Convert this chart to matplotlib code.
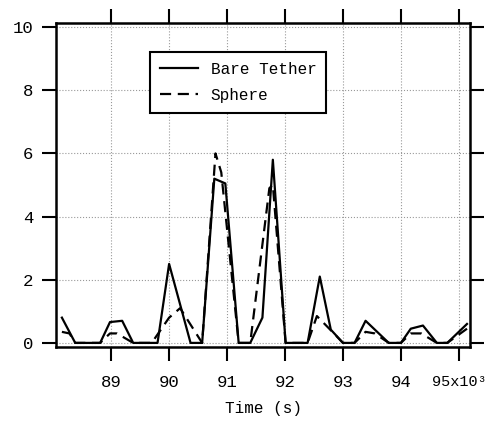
import matplotlib
matplotlib.use('Agg')
import matplotlib.pyplot as plt

# time (x10^3 s) and values
t_tether = [88.15, 88.38, 88.81, 88.98, 89.19, 89.38, 89.80, 90.00, 90.37, 90.57,
            90.78, 90.97, 91.20, 91.40, 91.61, 91.79, 92.01, 92.39, 92.60, 92.79,
            93.00, 93.20, 93.39, 93.79, 94.00, 94.17, 94.38, 94.62, 94.80, 95.14]
v_tether = [0.8, 0.0, 0.0, 0.66, 0.7, 0.0, 0.0, 2.5, 0.0, 0.0,
            5.2, 5.05, 0.0, 0.0, 0.8, 5.8, 0.0, 0.0, 2.1, 0.42,
            0.0, 0.0, 0.7, 0.0, 0.0, 0.45, 0.55, 0.0, 0.0, 0.6]

t_sphere = [88.15, 88.28, 88.38, 88.81, 88.98, 89.10, 89.38, 89.70, 90.00, 90.19,
            90.57, 90.80, 90.90, 91.20, 91.40, 91.73, 91.79, 92.01, 92.39, 92.55,
            92.79, 93.00, 93.20, 93.39, 93.55, 93.79, 94.00, 94.17, 94.35, 94.62,
            94.80, 95.14]
v_sphere = [0.35, 0.3, 0.0, 0.0, 0.3, 0.3, 0.0, 0.0, 0.8, 1.1,
            0.0, 6.0, 5.4, 0.0, 0.0, 4.9, 5.0, 0.0, 0.0, 0.85,
            0.4, 0.0, 0.0, 0.35, 0.3, 0.0, 0.0, 0.3, 0.3, 0.0,
            0.0, 0.45]

xticks = [89, 90, 91, 92, 93, 94, 95]
xtick_labels = ['89', '90', '91', '92', '93', '94', '95x10³']
yticks = [0, 2, 4, 6, 8, 10]

plt.rcParams['font.family'] = ['Liberation Mono', 'DejaVu Sans']

fig = plt.figure(figsize=(4.89, 4.22), dpi=100)
ax = fig.add_axes([0.1145, 0.1777, 0.8476, 0.7678])

ax.plot(t_tether, v_tether, color='black', lw=1.6, label='Bare Tether')
ax.plot(t_sphere, v_sphere, color='black', lw=1.6, ls=(0, (5, 3)), label='Sphere')

ax.set_xlim(88.048, 95.2)
ax.set_ylim(-0.13, 10.13)
ax.set_xticks(xticks)
ax.set_xticklabels(xtick_labels)
ax.set_yticks(yticks)
ax.tick_params(axis='both', direction='out', length=10, width=1.5, labelsize=12.5,
               top=True, right=True, labeltop=False, labelright=False)
ax.tick_params(axis='x', pad=10)
ax.tick_params(axis='y', pad=6.5)
last = ax.get_xticklabels()[-1]
last.set_fontsize(11)
last.set_x(95.05)
for s in ax.spines.values():
    s.set_linewidth(1.8)
ax.grid(True, color='#999999', ls=':', lw=0.8)
ax.set_xlabel('Time (s)', fontsize=11.5, labelpad=8)

leg = ax.legend(loc='upper left', bbox_to_anchor=(0.227, 0.910), borderaxespad=0,
                fontsize=11.5, fancybox=False, framealpha=1, edgecolor='black',
                handlelength=2.4, handletextpad=0.8, borderpad=0.6, labelspacing=0.7)
leg.get_frame().set_linewidth(1.5)

fig.savefig('out.png', dpi=100)
